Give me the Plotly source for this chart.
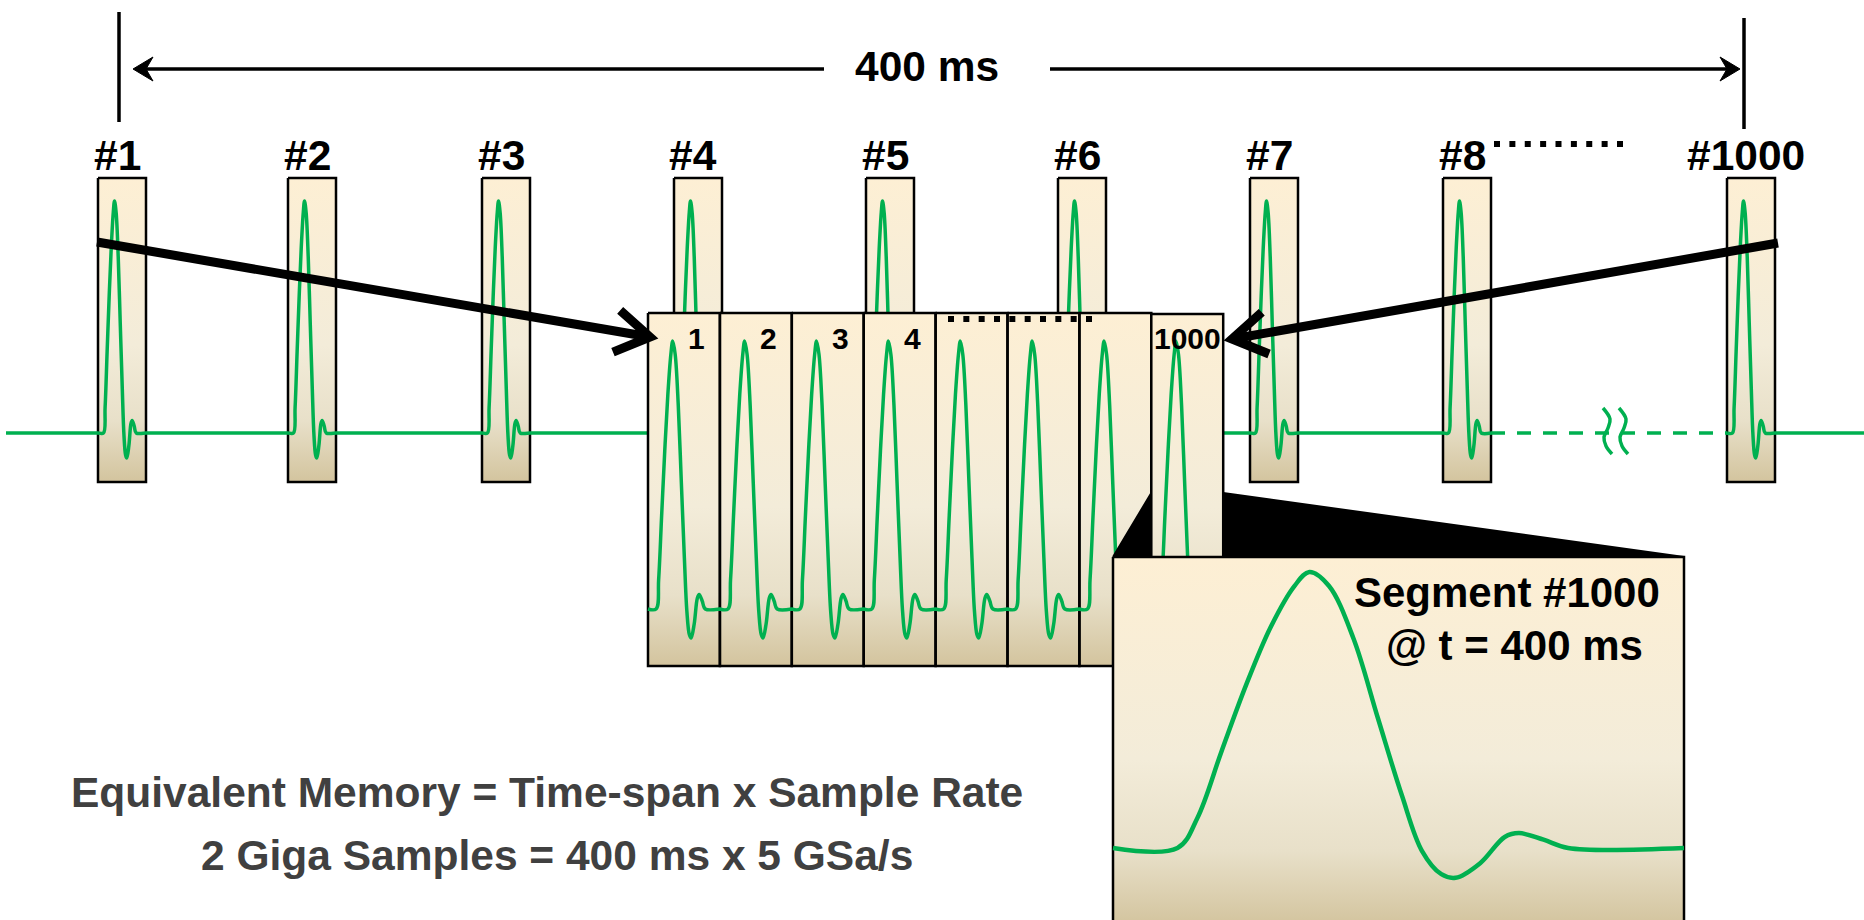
import numpy as np
import plotly.graph_objects as go

W, H = 1864, 920
GREEN = "#00B050"
FONT = "Liberation Sans, Arial, sans-serif"

# ---- values -------------------------------------------------------------
SEG_LABELS = ["#1", "#2", "#3", "#4", "#5", "#6", "#7", "#8", "#1000"]
BIG_LABELS = ["1", "2", "3", "4", "", "", ""]
LAST_LABEL = "1000"
SPAN_LABEL = "400 ms"
ZOOM_TEXT = ["Segment #1000", "@ t = 400 ms"]
FORMULA_TEXT = ["Equivalent Memory = Time-span x Sample Rate",
                "2 Giga Samples = 400 ms x 5 GSa/s"]

# one captured pulse, normalised: u = fraction of window width, v = fraction of peak height
PULSE_U = [0, 0.113, 0.148, 0.19, 0.233, 0.276, 0.318, 0.344, 0.378, 0.421,
           0.464, 0.506, 0.541, 0.575, 0.600, 0.643, 0.686, 0.711, 0.754, 0.797, 1]
PULSE_V = [0, 0, 0.11, 0.35, 0.59, 0.80, 0.95, 1.0, 0.95, 0.76,
           0.47, 0.19, -0.01, -0.095, -0.108, -0.055, 0.04, 0.054, 0.03, 0.0, 0]

# ---- layout geometry (px) -------------------------------------------------
SEG_LEFT = [98, 288, 482, 674, 866, 1058, 1250, 1443, 1727]
SEG_W, SEG_TOP, SEG_BOT = 48, 178, 482
SEG_BASE, SEG_AMP = 433, 232

BIG_LEFT, BIG_W, BIG_TOP, BIG_BOT = 648, 71.9, 313, 666
BIG_BASE, BIG_AMP = 609, 268
LAST_LEFT = BIG_LEFT + 7 * BIG_W

INS_L, INS_R, INS_T, INS_B = 1113, 1684, 557, 940
INS_BASE, INS_AMP = 848, 276

BOX_SCALE = [[0, "#FDEFD4"], [0.55, "#F3ECD9"], [0.8, "#E8E0C9"], [1, "#D3C49E"]]


def pulse(x0, w, base, amp):
    xs = x0 + np.array(PULSE_U) * w
    ys = base - np.array(PULSE_V) * amp
    return list(xs), list(ys)


def rects(lefts, w, top, bot):
    xs, ys = [], []
    for l in lefts:
        xs += [l, l + w, l + w, l, l, None]
        ys += [top, top, bot, bot, top, None]
    return xs, ys


def box_trace(lefts, w, top, bot, lw=2.5, gstop=None):
    xs, ys = rects(lefts, w, top, bot)
    return go.Scatter(x=xs, y=ys, mode="lines", fill="toself",
                      line=dict(color="black", width=lw),
                      fillgradient=dict(type="vertical", colorscale=BOX_SCALE,
                                        start=top, stop=gstop or bot),
                      hoverinfo="skip")


fig = go.Figure()

# small capture windows on the time line
fig.add_trace(box_trace(SEG_LEFT, SEG_W, SEG_TOP, SEG_BOT))

# time-line waveform
wx, wy = [6], [SEG_BASE]
for l in SEG_LEFT[:8]:
    px_, py_ = pulse(l, SEG_W, SEG_BASE, SEG_AMP)
    wx += px_; wy += py_
fig.add_trace(go.Scatter(x=wx, y=wy, mode="lines", line=dict(color=GREEN, width=3.5, shape="spline"),
                         hoverinfo="skip"))
px_, py_ = pulse(SEG_LEFT[8], SEG_W, SEG_BASE, SEG_AMP)
fig.add_trace(go.Scatter(x=px_ + [W + 5], y=py_ + [SEG_BASE], mode="lines",
                         line=dict(color=GREEN, width=3.5, shape="spline"), hoverinfo="skip"))
fig.add_trace(go.Scatter(x=[SEG_LEFT[7] + SEG_W, SEG_LEFT[8]], y=[SEG_BASE, SEG_BASE], mode="lines",
                         line=dict(color=GREEN, width=3.5, dash="14px,12px"), hoverinfo="skip"))
# break mark
for bx in [1603, 1619]:
    fig.add_trace(go.Scatter(x=[bx, bx + 7, bx + 5, bx + 1, bx + 3, bx + 9],
                             y=[408, 419, 428, 437, 446, 454], mode="lines",
                             line=dict(color=GREEN, width=3.5, shape="spline"), hoverinfo="skip"))

# segmented memory block
big_lefts = [BIG_LEFT + i * BIG_W for i in range(7)]
fig.add_trace(box_trace(big_lefts, BIG_W, BIG_TOP, BIG_BOT))
bx_, by_ = [], []
for l in big_lefts:
    px_, py_ = pulse(l, BIG_W, BIG_BASE, BIG_AMP)
    bx_ += px_; by_ += py_
fig.add_trace(go.Scatter(x=bx_, y=by_, mode="lines", line=dict(color=GREEN, width=3.5, shape="spline"),
                         hoverinfo="skip"))
fig.add_trace(go.Scatter(x=np.linspace(951, 1089, 10), y=[319] * 10, mode="markers",
                         marker=dict(symbol="square", size=6, color="black"), hoverinfo="skip"))

# zoom wedge
fig.add_trace(go.Scatter(x=[INS_L, LAST_LEFT, LAST_LEFT + BIG_W, INS_R, INS_L],
                         y=[INS_T, 493, 493, INS_T, INS_T], mode="lines", fill="toself",
                         fillcolor="black", line=dict(color="black", width=2), hoverinfo="skip"))

# last segment
fig.add_trace(box_trace([LAST_LEFT], BIG_W, BIG_TOP + 1, BIG_BOT))
px_, py_ = pulse(LAST_LEFT, BIG_W, BIG_BASE, BIG_AMP)
fig.add_trace(go.Scatter(x=px_, y=py_, mode="lines", line=dict(color=GREEN, width=3.5, shape="spline"),
                         hoverinfo="skip"))

# zoomed view of segment #1000
fig.add_trace(box_trace([INS_L], INS_R - INS_L, INS_T, INS_B, gstop=925))
px_, py_ = pulse(INS_L, INS_R - INS_L, INS_BASE, INS_AMP)
fig.add_trace(go.Scatter(x=px_, y=py_, mode="lines", line=dict(color=GREEN, width=4.5, shape="spline"),
                         hoverinfo="skip"))

# 400 ms span arrow
for xs, ys in [([119, 119], [12, 122]), ([1744, 1744], [18, 129]),
               ([140, 824], [69, 69]), ([1050, 1730], [69, 69])]:
    fig.add_trace(go.Scatter(x=xs, y=ys, mode="lines", line=dict(color="black", width=3.5),
                             hoverinfo="skip"))
for tip, sgn in [(133, 1), (1740, -1)]:
    fig.add_trace(go.Scatter(x=[tip, tip + sgn * 20, tip + sgn * 13, tip + sgn * 20, tip],
                             y=[69, 57, 69, 81, 69], mode="lines", fill="toself", fillcolor="black",
                             line=dict(color="black", width=1), hoverinfo="skip"))

# dots after #8
fig.add_trace(go.Scatter(x=np.linspace(1497, 1620, 9), y=[144] * 9, mode="markers",
                         marker=dict(symbol="square", size=6, color="black"), hoverinfo="skip"))

# thick pointer arrows
for start, tip in [((97, 242), (650, 337)), ((1778, 243), (1232, 339))]:
    s, t = np.array(start, float), np.array(tip, float)
    d = (t - s) / np.linalg.norm(t - s)
    arms = []
    for a in (np.radians(32), -np.radians(32)):
        r = np.array([d[0] * np.cos(a) - d[1] * np.sin(a), d[0] * np.sin(a) + d[1] * np.cos(a)])
        arms.append(t - 40 * r)
    fig.add_trace(go.Scatter(x=[s[0], t[0], None, arms[0][0], t[0], arms[1][0]],
                             y=[s[1], t[1], None, arms[0][1], t[1], arms[1][1]],
                             mode="lines", line=dict(color="black", width=9), hoverinfo="skip"))

# ---- text -----------------------------------------------------------------
ann = []


def txt(x, y, s, size, color="black"):
    ann.append(dict(x=x, y=y, text="<b>" + s + "</b>", showarrow=False, xanchor="center",
                    yanchor="middle", font=dict(family=FONT, size=size, color=color)))


txt(927, 66, SPAN_LABEL, 42.5)
for l, lab in zip(SEG_LEFT, SEG_LABELS):
    txt(l + SEG_W / 2 - 5, 155, lab, 42.5)
for l, lab in zip(big_lefts, BIG_LABELS):
    if lab:
        txt(l + BIG_W - 23, 338, lab, 30)
txt(LAST_LEFT + BIG_W / 2, 338, LAST_LABEL, 30)
txt(1507, 592, ZOOM_TEXT[0], 42)
txt(1514, 645, ZOOM_TEXT[1], 42)
txt(547, 792, FORMULA_TEXT[0], 42.5, "#404040")
txt(557, 855, FORMULA_TEXT[1], 42.5, "#404040")

fig.update_layout(
    width=W, height=H, margin=dict(l=0, r=0, t=0, b=0),
    paper_bgcolor="white", plot_bgcolor="white", showlegend=False,
    xaxis=dict(range=[0, W], visible=False, fixedrange=True),
    yaxis=dict(range=[H, 0], visible=False, fixedrange=True),
    annotations=ann,
)
fig.write_html("out.html", config={"displayModeBar": False},
               post_script="document.body.style.margin='0';")
